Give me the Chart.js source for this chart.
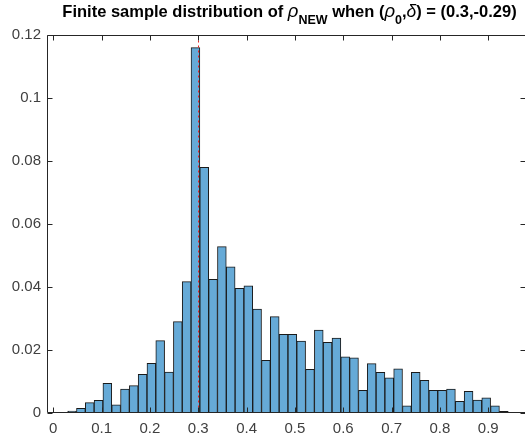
<!DOCTYPE html>
<html>
<head>
<meta charset="utf-8">
<script src="https://cdn.jsdelivr.net/npm/chart.js@4/dist/chart.umd.min.js"></script>
<style>
  html, body { margin: 0; padding: 0; background: #fff; }
  #wrap { width: 525px; height: 441px; position: relative; }
</style>
</head>
<body>
<div id="wrap"><canvas id="histChart"></canvas></div>
<script>
// Histogram bins (left edge of first bin and common bin width)
const binStart = 0.0298;
const binWidth = 0.01823;

// Probability per bin
const binValues = [
    0.0006, 0.0015, 0.0033, 0.0040, 0.0094, 0.0026, 0.0076, 0.0087, 0.0123, 0.0158,
    0.0230, 0.0130, 0.0290, 0.0417, 0.1160, 0.0780, 0.0424, 0.0528, 0.0464, 0.0396,
    0.0404, 0.0330, 0.0167, 0.0306, 0.0250, 0.0250, 0.0228, 0.0139, 0.0263, 0.0224,
    0.0238, 0.0178, 0.0175, 0.0072, 0.0157, 0.0129, 0.0112, 0.0140, 0.0023, 0.0129,
    0.0104, 0.0072, 0.0072, 0.0076, 0.0037, 0.0069, 0.0041, 0.0048, 0.0023, 0.0005
];

const xTicks = [0, 0.1, 0.2, 0.3, 0.4, 0.5, 0.6, 0.7, 0.8, 0.9];
const yTicks = [0, 0.02, 0.04, 0.06, 0.08, 0.1, 0.12];
const refLineX = 0.3;

const axisColor = '#262626';
const fontFamily = "'Liberation Sans', Arial, Helvetica, sans-serif";

// bin centres
const points = binValues.map((v, i) => ({ x: binStart + binWidth * (i + 0.5), y: v }));

// Title with TeX-like subscripts, drawn on the canvas
const titlePlugin = {
    id: 'texTitle',
    afterDraw(chart) {
        const ctx = chart.ctx;
        const segs = [
            { t: 'Finite sample distribution of ', f: 'bold 16.5px ' + fontFamily, dy: 0 },
            { t: 'ρ', f: 'italic 18.5px ' + fontFamily, dy: 0 },
            { t: 'NEW', f: 'bold 12.5px ' + fontFamily, dy: 7 },
            { t: ' when (', f: 'bold 16.5px ' + fontFamily, dy: 0 },
            { t: 'ρ', f: 'italic 18.5px ' + fontFamily, dy: 0 },
            { t: '0', f: 'bold 12.5px ' + fontFamily, dy: 7 },
            { t: ',', f: 'bold 16.5px ' + fontFamily, dy: 0 },
            { t: 'δ', f: 'italic 17.5px ' + fontFamily, dy: 0 },
            { t: ') = (0.3,-0.29)', f: 'bold 16.5px ' + fontFamily, dy: 0 }
        ];
        ctx.save();
        let total = 0;
        segs.forEach(s => { ctx.font = s.f; s.w = ctx.measureText(s.t).width; total += s.w; });
        let x = 289.5 - total / 2;
        const base = 17;
        ctx.fillStyle = '#000';
        ctx.textBaseline = 'alphabetic';
        ctx.textAlign = 'left';
        segs.forEach(s => {
            ctx.font = s.f;
            ctx.fillText(s.t, x, base + s.dy);
            x += s.w;
        });
        ctx.restore();
    }
};

// Box, inward tick marks and the dotted reference line
const framePlugin = {
    id: 'matlabFrame',
    afterDatasetsDraw(chart) {
        const ctx = chart.ctx;
        const a = chart.chartArea;
        const xs = chart.scales.x;
        const ys = chart.scales.y;
        // right edge of the box falls just outside the canvas, as in the original
        const L = Math.round(a.left) + 0.5, R = Math.round(a.right) + 0.5;
        const T = Math.round(a.top) + 0.5, B = Math.round(a.bottom) - 0.5;
        const tl = 5;

        ctx.save();
        // reference line
        const rx = Math.round(xs.getPixelForValue(refLineX)) + 0.5;
        ctx.strokeStyle = '#ee2222';
        ctx.lineWidth = 1;
        ctx.setLineDash([2, 3]);
        ctx.beginPath();
        ctx.moveTo(rx, T);
        ctx.lineTo(rx, B);
        ctx.stroke();
        ctx.setLineDash([]);

        ctx.strokeStyle = axisColor;
        ctx.lineWidth = 1;
        ctx.beginPath();
        ctx.rect(L, T, R - L, B - T);
        xTicks.forEach(v => {
            const px = Math.round(xs.getPixelForValue(v)) + 0.5;
            ctx.moveTo(px, B); ctx.lineTo(px, B - tl);
            ctx.moveTo(px, T); ctx.lineTo(px, T + tl);
        });
        yTicks.forEach(v => {
            const py = Math.round(ys.getPixelForValue(v)) + 0.5;
            ctx.moveTo(L, py); ctx.lineTo(L + tl, py);
            ctx.moveTo(R, py); ctx.lineTo(R - tl, py);
        });
        ctx.stroke();
        ctx.restore();
    }
};

new Chart(document.getElementById('histChart'), {
    type: 'bar',
    data: {
        datasets: [{
            data: points,
            backgroundColor: 'rgb(102, 170, 215)',
            borderColor: '#1a1a1a',
            borderWidth: 1,
            borderSkipped: false,
            barPercentage: 1.0,
            categoryPercentage: 1.0
        }]
    },
    options: {
        responsive: true,
        maintainAspectRatio: false,
        animation: false,
        layout: { padding: { top: 35, left: 0, right: 0, bottom: 0 } },
        plugins: {
            legend: { display: false },
            title: { display: false },
            tooltip: { enabled: false }
        },
        scales: {
            x: {
                type: 'linear',
                offset: false,
                min: -0.013,
                max: 0.976,
                grid: { display: false, drawTicks: false, offset: false },
                border: { display: false },
                afterBuildTicks: s => { s.ticks = xTicks.map(v => ({ value: v })); },
                afterFit: s => { s.height = 28; },
                ticks: {
                    color: '#404040',
                    padding: 7,
                    maxRotation: 0,
                    autoSkip: false,
                    font: { family: fontFamily, size: 15 },
                    callback: v => String(Number(v.toFixed(2)))
                }
            },
            y: {
                min: 0,
                max: 0.12,
                grid: { display: false, drawTicks: false },
                border: { display: false },
                afterBuildTicks: s => { s.ticks = yTicks.map(v => ({ value: v })); },
                afterFit: s => { s.width = 47; },
                ticks: {
                    color: '#404040',
                    padding: 6,
                    autoSkip: false,
                    font: { family: fontFamily, size: 15 },
                    callback: v => String(Number(v.toFixed(2)))
                }
            }
        }
    },
    plugins: [titlePlugin, framePlugin]
});
</script>
</body>
</html>
